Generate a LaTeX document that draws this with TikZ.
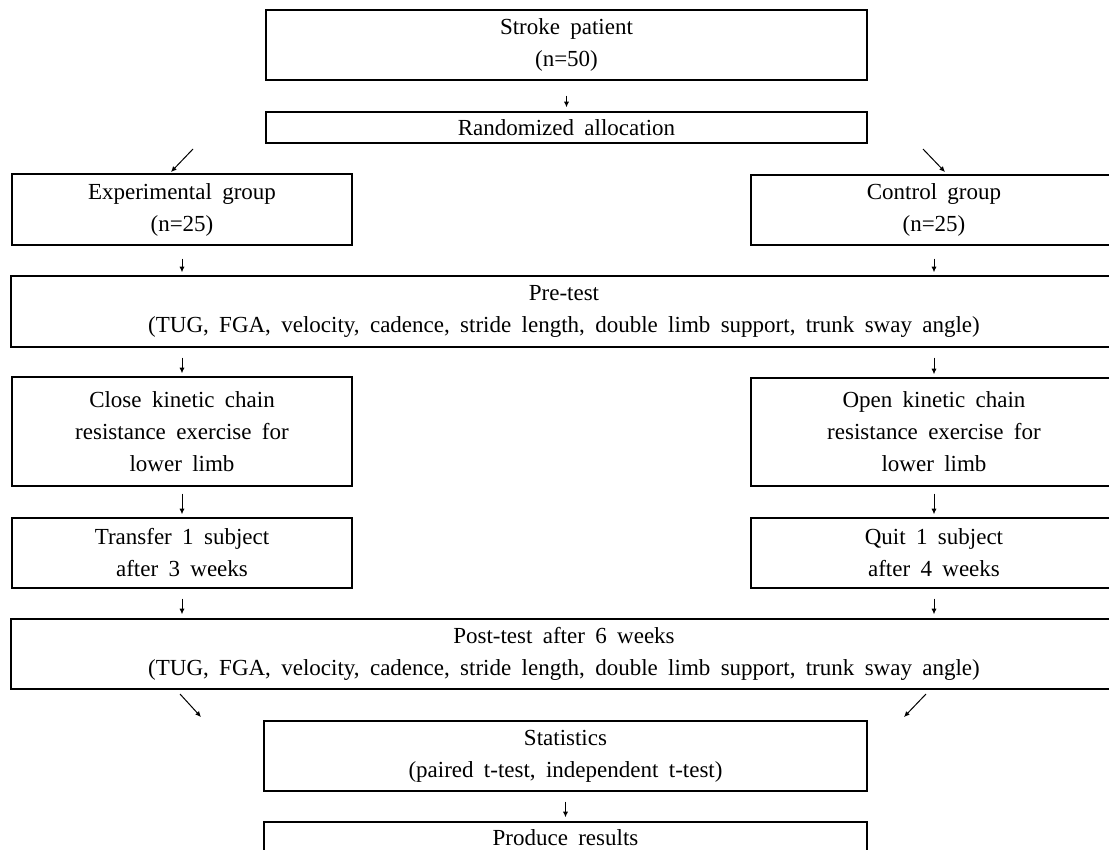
\documentclass[tikz,border=0pt]{standalone}
\usepackage{fontspec}
\setmainfont{Liberation Serif}
\usetikzlibrary{arrows.meta,positioning}
\tikzset{>={Latex[length=2.8pt,width=2.6pt]}}
\newcommand{\boxfont}{\fontsize{11.5}{16}\selectfont\spaceskip=0.45em plus 0.1em\relax}

\begin{document}
\begin{tikzpicture}[x=0.5pt, y=-0.5pt,
    box/.style={draw, line width=0.7pt, align=center, inner sep=0pt, font=\boxfont},
    flow/.style={->, line width=0.5pt}]
  \useasboundingbox (0,0) rectangle (1109,850);

  % top of the chart
  \node[box, minimum width=300.5pt, minimum height=35pt] (stroke) at (566.5,45) {Stroke patient\\(n=50)};
  \node[box, minimum width=300.5pt, minimum height=15.5pt] (alloc) at (566.5,127.5) {Randomized allocation};

  % two groups
  \node[box, minimum width=170pt, minimum height=35.5pt] (expgrp) at (182,209.5) {Experimental group\\(n=25)};
  \node[box, minimum width=183pt, minimum height=35pt] (ctrlgrp) at (934,210) {Control group\\(n=25)};

  \node[box, minimum width=553pt, minimum height=35.5pt] (pretest) at (564,311.5)
    {Pre-test\\(TUG, FGA, velocity, cadence, stride length, double limb support, trunk sway angle)};

  \node[box, minimum width=170pt, minimum height=54.5pt] (closeex) at (182,431.5)
    {Close kinetic chain\\resistance exercise for\\lower limb};
  \node[box, minimum width=183pt, minimum height=54pt] (openex) at (934,432)
    {Open kinetic chain\\resistance exercise for\\lower limb};

  \node[box, minimum width=170pt, minimum height=35pt] (transfer) at (182,553) {Transfer 1 subject\\after 3 weeks};
  \node[box, minimum width=183pt, minimum height=35pt] (quit) at (934,553) {Quit 1 subject\\after 4 weeks};

  \node[box, minimum width=553pt, minimum height=35pt] (posttest) at (564,654)
    {Post-test after 6 weeks\\(TUG, FGA, velocity, cadence, stride length, double limb support, trunk sway angle)};

  % bottom of the chart
  \node[box, minimum width=301.5pt, minimum height=35pt] (stats) at (565.5,756) {Statistics\\(paired t-test, independent t-test)};
  \node[box, minimum width=301.5pt, minimum height=15.5pt] (results) at (565.5,837.5) {Produce results};

  % free ends of the slanted arrows
  \coordinate (splitL) at (193,149);
  \coordinate (splitLend) at (171,172);
  \coordinate (splitR) at (923,149);
  \coordinate (splitRend) at (945,172);
  \coordinate (joinL) at (180,694);
  \coordinate (joinLend) at (201,717);
  \coordinate (joinR) at (926,694);
  \coordinate (joinRend) at (904,717);

  \draw[flow, shorten <=7.5pt, shorten >=2pt] (stroke.south) -- (stroke.south |- alloc.north);
  \draw[flow] (splitL) -- (splitLend);
  \draw[flow] (splitR) -- (splitRend);
  \draw[flow, shorten <=6.5pt, shorten >=1.5pt] (expgrp.south) -- (expgrp.south |- pretest.north);
  \draw[flow, shorten <=6.5pt, shorten >=1.5pt] (ctrlgrp.south) -- (ctrlgrp.south |- pretest.north);
  \draw[flow, shorten <=5pt, shorten >=1.5pt] (pretest.south -| closeex.north) -- (closeex.north);
  \draw[flow, shorten <=5pt, shorten >=1.5pt] (pretest.south -| openex.north) -- (openex.north);
  \draw[flow, shorten <=3.5pt, shorten >=1.5pt] (closeex.south) -- (transfer.north);
  \draw[flow, shorten <=3.5pt, shorten >=1.5pt] (openex.south) -- (quit.north);
  \draw[flow, shorten <=5pt, shorten >=2pt] (transfer.south) -- (transfer.south |- posttest.north);
  \draw[flow, shorten <=5pt, shorten >=2pt] (quit.south) -- (quit.south |- posttest.north);
  \draw[flow] (joinL) -- (joinLend);
  \draw[flow] (joinR) -- (joinRend);
  \draw[flow, shorten <=5pt, shorten >=2pt] (stats.south) -- (results.north);
\end{tikzpicture}
\end{document}
